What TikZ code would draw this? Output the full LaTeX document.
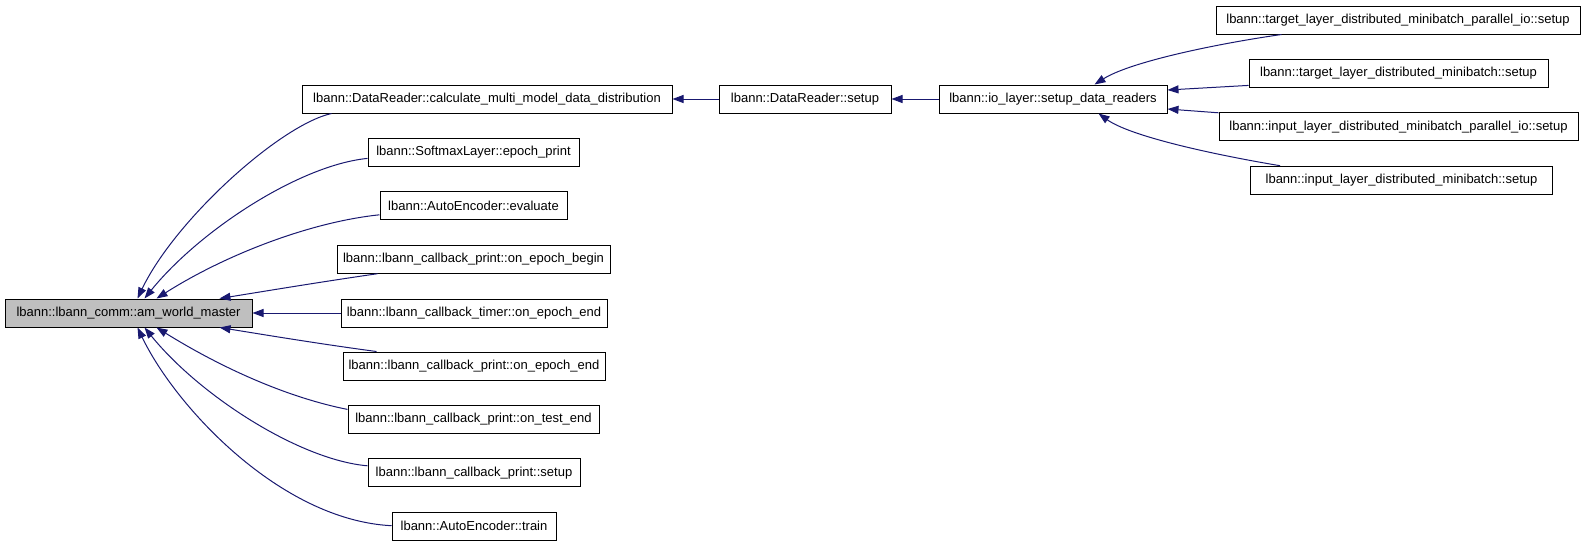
\documentclass[tikz,border=0pt]{standalone}
\usepackage{fontspec}
\setmainfont{Liberation Sans}
\usetikzlibrary{arrows.meta,calc}
\definecolor{edgeblue}{HTML}{191970}
\definecolor{maingray}{HTML}{BFBFBF}
\begin{document}
\begin{tikzpicture}[x=1pt,y=-1pt,
  box/.style={draw=black,line width=1pt,rectangle,inner sep=0pt,minimum height=28pt,font=\fontsize{13}{15}\selectfont},
  edge/.style={draw=edgeblue,line width=1pt,-{Triangle[length=11pt,width=8pt]}}]
\useasboundingbox (0,0) rectangle (1587,547);
% nodes
\node[box,fill=maingray,minimum width=247pt] (main) at (128.5,313) {lbann::lbann\_comm::am\_world\_master};
\node[box,minimum width=370pt] (calc) at (487,99) {lbann::DataReader::calculate\_multi\_model\_data\_distribution};
\node[box,minimum width=211pt] (soft) at (473.5,152.4) {lbann::SoftmaxLayer::epoch\_print};
\node[box,minimum width=187pt] (eval) at (473.5,205.8) {lbann::AutoEncoder::evaluate};
\node[box,minimum width=273pt] (begin) at (473.5,259.2) {lbann::lbann\_callback\_print::on\_epoch\_begin};
\node[box,minimum width=266pt] (timer) at (474,313) {lbann::lbann\_callback\_timer::on\_epoch\_end};
\node[box,minimum width=262pt] (pend) at (474,366) {lbann::lbann\_callback\_print::on\_epoch\_end};
\node[box,minimum width=251pt] (tend) at (473.5,419.4) {lbann::lbann\_callback\_print::on\_test\_end};
\node[box,minimum width=212pt] (pset) at (474,472.8) {lbann::lbann\_callback\_print::setup};
\node[box,minimum width=164pt] (train) at (474,526.2) {lbann::AutoEncoder::train};
\node[box,minimum width=172pt] (dr) at (805,99) {lbann::DataReader::setup};
\node[box,minimum width=228pt] (io) at (1053,99) {lbann::io\_layer::setup\_data\_readers};
\node[box,minimum width=364pt] (tp) at (1398,20) {lbann::target\_layer\_distributed\_minibatch\_parallel\_io::setup};
\node[box,minimum width=299pt] (td) at (1398.5,73.4) {lbann::target\_layer\_distributed\_minibatch::setup};
\node[box,minimum width=359pt] (ip) at (1398.5,126.8) {lbann::input\_layer\_distributed\_minibatch\_parallel\_io::setup};
\node[box,minimum width=302pt] (id) at (1401.5,180.2) {lbann::input\_layer\_distributed\_minibatch::setup};
% edges into main (top)
\draw[edge] ($(calc.south west)+(30,0)$) .. controls (280,125) and (175,220) .. ($(main.north west)+(133,0)$);
\draw[edge] ($(soft.west)+(0,6)$) .. controls (300,165) and (200,230) .. ($(main.north west)+(140,0)$);
\draw[edge] ($(eval.west)+(0,9)$) .. controls (310,222) and (225,255) .. ($(main.north west)+(152,0)$);
\draw[edge] ($(begin.south west)+(41,0)$) .. controls (320,282) and (260,292) .. ($(main.north west)+(215,0)$);
\draw[edge] (timer.west) -- (main.east);
% edges into main (bottom)
\draw[edge] ($(pend.north west)+(34,0)$) .. controls (320,344) and (260,334) .. ($(main.south west)+(215,0)$);
\draw[edge] ($(tend.west)+(0,-10)$) .. controls (290,398) and (225,370) .. ($(main.south west)+(152,0)$);
\draw[edge] ($(pset.west)+(0,-7)$) .. controls (300,460) and (200,396) .. ($(main.south west)+(140,0)$);
\draw[edge] ($(train.west)+(0,-0.5)$) .. controls (280,520) and (175,406) .. ($(main.south west)+(133,0)$);
% chain
\draw[edge] (dr.west) -- (calc.east);
\draw[edge] (io.west) -- (dr.east);
% right column
\draw[edge] ($(tp.south west)+(66,0)$) .. controls (1215,44) and (1130,62) .. ($(io.north west)+(156,0)$);
\draw[edge] ($(td.west)+(0,12)$) -- ($(io.east)+(0,-9)$);
\draw[edge] ($(ip.west)+(0,-14)$) -- ($(io.east)+(0,10)$);
\draw[edge] ($(id.north west)+(30,0)$) .. controls (1210,154) and (1130,136) .. ($(io.south west)+(160,0)$);
\end{tikzpicture}
\end{document}
